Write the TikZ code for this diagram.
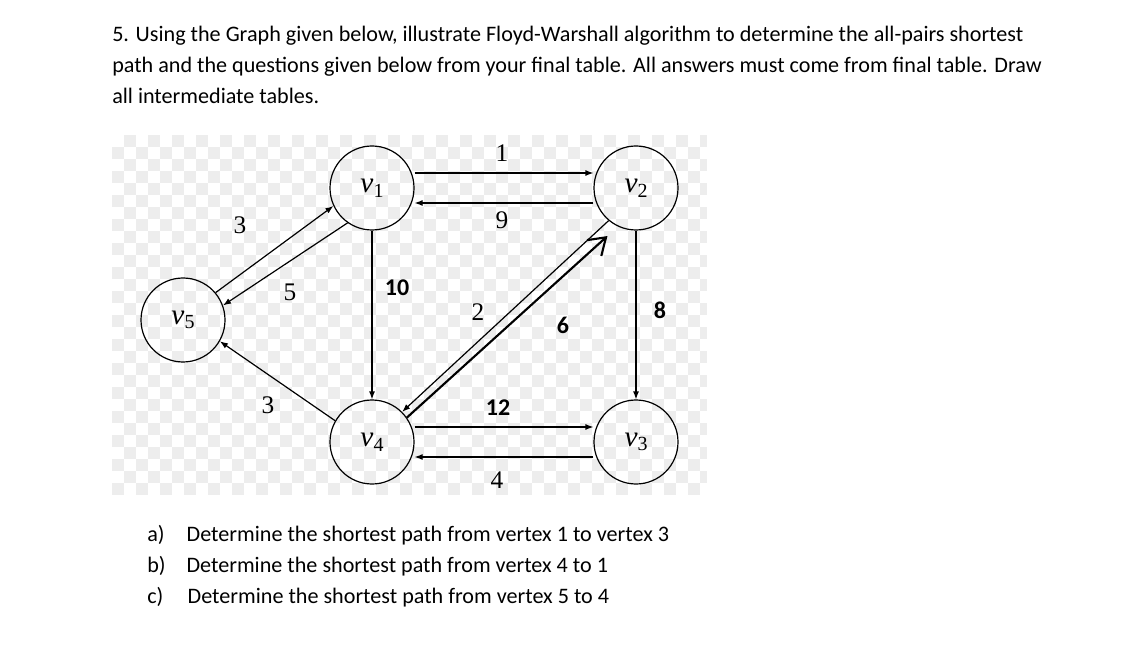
\documentclass[tikz,border=0pt]{standalone}
\usepackage{fontspec}
\setmainfont{Carlito}
\newfontfamily\serifg{Liberation Serif}
\usetikzlibrary{arrows.meta}
\newcommand{\vl}[1]{{\itshape v}\raisebox{-0.35ex}{\fontsize{15}{15}\selectfont #1}}
\begin{document}
\begin{tikzpicture}[x=0.75pt,y=-0.75pt,
  vtx/.style={draw,line width=0.9pt,circle,minimum size=84*0.75pt,inner sep=0pt,font=\serifg\fontsize{22}{22}\selectfont},
  edge/.style={draw,line width=0.9pt,-{Latex[length=6pt,width=4.5pt]}},
  slab/.style={inner sep=0pt,font=\serifg\fontsize{19}{19}\selectfont},
  blab/.style={inner sep=0pt,font=\bfseries\fontsize{18}{18}\selectfont},
  txt/.style={anchor=base west,inner sep=0pt,font=\fontsize{16.6}{16.6}\selectfont}]
\useasboundingbox (0,0) rectangle (1144,655);
\fill[white] (0,0) rectangle (1144,655);
\fill[white] (112,135) rectangle (707,497);
\foreach \i in {0,...,49}{\foreach \j in {0,...,29}{
  \pgfmathtruncatemacro\p{mod(\i+\j,2)}
  \ifnum\p=1 \fill[black!7] ({112+12*\i},{135+12*\j}) rectangle ({min(707,124+12*\i)},{min(497,147+12*\j)});\fi}}
\node[txt] (l1) at (112,42) {5. Using the Graph given below, illustrate Floyd-Warshall algorithm to determine the all-pairs shortest};
\node[txt] (l2) at (112,73) {path and the questions given below from your final table. All answers must come from final table. Draw};
\node[txt] (l3) at (112,104) {all intermediate tables.};
\node[txt] (qa) at (147,541) {a)\hspace{1.0em}Determine the shortest path from vertex 1 to vertex 3};
\node[txt] (qb) at (147,572) {b)\hspace{0.95em}Determine the shortest path from vertex 4 to 1};
\node[txt] (qc) at (147,603) {c)\hspace{1.1em}Determine the shortest path from vertex 5 to 4};
\node[vtx] (v1) at (372,188) {\vl1};
\node[vtx] (v2) at (636,188) {\vl2};
\node[vtx] (v5) at (183,320) {\vl5};
\node[vtx] (v4) at (372,442) {\vl4};
\node[vtx] (v3) at (636,442) {\vl3};
\draw[edge] ([yshift=11.25pt]v1.east) -- ([yshift=11.25pt]v2.west);
\draw[edge] ([yshift=-11.25pt]v2.west) -- ([yshift=-11.25pt]v1.east);
\draw[edge] (v5.40) -- (v1.205);
\draw[edge] (v1.235) -- (v5.20);
\draw[edge] (v4.150) -- (v5.330);
\draw[edge] (v1) -- (v4);
\draw[edge] (v2) -- (v3);
\draw[edge] (v2.230) -- (v4.45);
\draw[line width=1.6pt,-{Straight Barb[length=12pt,width=16pt,line width=1.6pt]}] (v4.35) -- ([shift={(-14,8)}]v2.250);
\draw[edge] ([yshift=11.25pt]v4.east) -- ([yshift=11.25pt]v3.west);
\draw[edge] ([yshift=-11.25pt]v3.west) -- ([yshift=-11.25pt]v4.east);
\node[slab] (w12) at (502,153) {1};
\node[slab] (w21) at (502,220) {9};
\node[slab] (w51) at (240,225) {3};
\node[slab] (w15) at (290,292) {5};
\node[slab] (w45) at (268,405) {3};
\node[blab] (w14) at (397,288) {10};
\node[slab] (w24) at (478,312) {2};
\node[blab] (w42) at (563,325) {6};
\node[blab] (w23) at (660,310) {8};
\node[blab] (w43) at (498,408) {12};
\node[slab] (w34) at (497,480) {4};
\end{tikzpicture}
\end{document}
